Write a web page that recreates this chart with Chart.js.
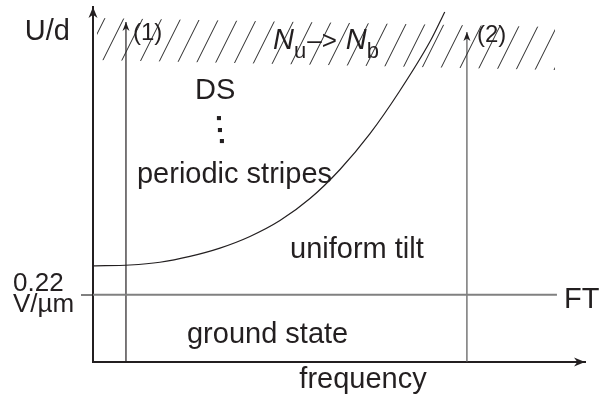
<!DOCTYPE html>
<html>
<head>
<meta charset="utf-8">
<script src="https://cdn.jsdelivr.net/npm/chart.js@4/dist/chart.umd.min.js"></script>
<style>
  body { margin: 0; background: #ffffff; }
  canvas { display: block; }
</style>
</head>
<body>
<canvas id="phaseChart" width="608" height="401"></canvas>
<script>
// phase boundary between periodic stripes and uniform tilt
const boundaryFreq = [0, 7.5, 13.6, 19.7, 25.8, 31.9, 38.0, 44.1, 50.2, 56.3, 62.4, 68.5, 71.5];
const boundaryField = [0.314, 0.317, 0.326, 0.345, 0.372, 0.410, 0.462, 0.534, 0.629, 0.746, 0.887, 1.047, 1.144];

// Freedericksz threshold
const thresholdField = 0.22;
const thresholdFreq = [0, 94.3];

// voltage sweeps (1) and (2)
const sweepFreq = [6.7, 76.0];
const sweepTop = [1.111, 1.078];

// hatched Nu -> Nb band
const bandFreq = [0.8, 93.9];
const bandTop = [1.124, 1.095];
const bandBottom = [0.987, 0.954];

// the three dots under DS
const dotFreq = [25.6, 25.8, 26.2];
const dotField = [0.797, 0.758, 0.722];

const yTicks = [thresholdField];
const yTickLabel = ["0.22", "V/\u00b5m"];

const FONT = '"Liberation Sans", Arial, sans-serif';

function pts(xs, ys) {
    return xs.map((x, i) => ({ x: x, y: ys[i] }));
}

// diagonal hatch pattern
function makeHatch() {
    const c = document.createElement("canvas");
    c.width = 19;
    c.height = 38;
    const g = c.getContext("2d");
    g.strokeStyle = "#2a2a2a";
    g.lineWidth = 1;
    for (let k = -1; k <= 1; k++) {
        g.beginPath();
        g.moveTo(k * 19, 38);
        g.lineTo(k * 19 + 19, 0);
        g.stroke();
    }
    return g.createPattern(c, "repeat");
}

function arrowUp(ctx, x, y, w, h) {
    ctx.beginPath();
    ctx.moveTo(x, y);
    ctx.lineTo(x - w, y + h);
    ctx.lineTo(x, y + h * 0.7);
    ctx.lineTo(x + w, y + h);
    ctx.closePath();
    ctx.fill();
}

function arrowRight(ctx, x, y, w, h) {
    ctx.beginPath();
    ctx.moveTo(x, y);
    ctx.lineTo(x - h, y - w);
    ctx.lineTo(x - h * 0.7, y);
    ctx.lineTo(x - h, y + w);
    ctx.closePath();
    ctx.fill();
}

// arrowheads + free text
const annotate = {
    id: "annotate",
    afterDraw(chart, args, opts) {
        const ctx = chart.ctx;
        const area = chart.chartArea;
        const xs = chart.scales.x;
        const ys = chart.scales.y;
        ctx.save();
        ctx.fillStyle = "#231f20";

        // axis arrows
        arrowUp(ctx, area.left, area.top, 4.5, 11);
        arrowRight(ctx, area.right, area.bottom, 4.5, 11);

        // sweep arrows
        chart.data.datasets.forEach((ds, i) => {
            if (!ds.arrowHead) return;
            const last = chart.getDatasetMeta(i).data;
            const p = last[last.length - 1];
            arrowUp(ctx, p.x, p.y, 3.5, 9);
        });

        ctx.textAlign = "left";
        ctx.textBaseline = "alphabetic";
        opts.labels.forEach(l => {
            ctx.font = l.size + "px " + FONT;
            ctx.fillText(l.text, xs.getPixelForValue(l.x), ys.getPixelForValue(l.y));
        });

        // Nu -> Nb
        let x = xs.getPixelForValue(opts.transition.x);
        const y = ys.getPixelForValue(opts.transition.y);
        opts.transition.parts.forEach(p => {
            ctx.font = (p.italic ? "italic " : "") + p.size + "px " + FONT;
            ctx.fillText(p.text, x, y + p.dy);
            x += ctx.measureText(p.text).width + (p.gap || 0);
        });

        // axis titles
        ctx.font = "29px " + FONT;
        ctx.textAlign = "right";
        ctx.fillText("U/d", area.left - 23, area.top + 33);
        ctx.textAlign = "center";
        ctx.fillText("frequency", area.left + 270, area.bottom + 26);
        ctx.restore();
    }
};

const hatch = makeHatch();

new Chart(document.getElementById("phaseChart"), {
    type: "line",
    data: {
        datasets: [
            {
                data: pts(bandFreq, bandBottom),
                borderWidth: 0,
                pointRadius: 0,
                fill: false
            },
            {
                data: pts(bandFreq, bandTop),
                borderWidth: 0,
                pointRadius: 0,
                backgroundColor: hatch,
                fill: "-1"
            },
            {
                data: pts(thresholdFreq, thresholdFreq.map(() => thresholdField)),
                borderColor: "#808080",
                borderWidth: 2,
                pointRadius: 0
            },
            {
                data: pts(boundaryFreq, boundaryField),
                borderColor: "#231f20",
                borderWidth: 1.2,
                pointRadius: 0,
                cubicInterpolationMode: "monotone",
                clip: false
            },
            {
                data: [{ x: sweepFreq[0], y: 0 }, { x: sweepFreq[0], y: sweepTop[0] }],
                borderColor: "#231f20",
                borderWidth: 1.2,
                pointRadius: 0,
                arrowHead: true
            },
            {
                data: [{ x: sweepFreq[1], y: 0 }, { x: sweepFreq[1], y: sweepTop[1] }],
                borderColor: "#555555",
                borderWidth: 1.2,
                pointRadius: 0,
                arrowHead: true
            },
            {
                data: pts(dotFreq, dotField),
                showLine: false,
                pointStyle: "rect",
                pointRadius: 2.9,
                backgroundColor: "#231f20",
                borderWidth: 0
            }
        ]
    },
    options: {
        responsive: false,
        animation: false,
        events: [],
        layout: {
            padding: { left: 13, top: 7, right: 23, bottom: 0 }
        },
        scales: {
            x: {
                type: "linear",
                min: 0,
                max: 100,
                ticks: { display: false },
                grid: { display: false },
                border: { color: "#231f20", width: 2 },
                afterFit(axis) {
                    axis.height = 39;
                }
            },
            y: {
                type: "linear",
                min: 0,
                max: 1.16,
                afterBuildTicks(axis) {
                    axis.ticks = yTicks.map(v => ({ value: v }));
                },
                ticks: {
                    crossAlign: "far",
                    color: "#231f20",
                    font: { family: FONT, size: 26, lineHeight: 0.8 },
                    callback: () => yTickLabel
                },
                grid: {
                    drawOnChartArea: false,
                    drawTicks: true,
                    tickLength: 12,
                    color: "#808080",
                    lineWidth: 2
                },
                border: { color: "#231f20", width: 2 },
                afterFit(axis) {
                    axis.width = 80;
                    axis.paddingTop = 0;
                    axis.paddingBottom = 0;
                }
            }
        },
        plugins: {
            legend: { display: false },
            tooltip: { enabled: false },
            annotate: {
                labels: [
                    { text: "(1)", x: 8.13, y: 1.052, size: 24 },
                    { text: "(2)", x: 78.05, y: 1.0456, size: 24 },
                    { text: "DS", x: 20.73, y: 0.8594, size: 29 },
                    { text: "periodic stripes", x: 8.94, y: 0.5849, size: 29 },
                    { text: "uniform tilt", x: 40.04, y: 0.3398, size: 29 },
                    { text: "ground state", x: 19.1, y: 0.0621, size: 29 },
                    { text: "FT", x: 95.73, y: 0.1765, size: 29 }
                ],
                transition: {
                    x: 36.59,
                    y: 1.0228,
                    parts: [
                        { text: "N", size: 29, italic: true, dy: 0 },
                        { text: "u", size: 22, dy: 9, gap: 1 },
                        { text: "\u2013>", size: 26, dy: 0, gap: 9 },
                        { text: "N", size: 29, italic: true, dy: 0 },
                        { text: "b", size: 22, dy: 9 }
                    ]
                }
            }
        }
    },
    plugins: [annotate]
});
</script>
</body>
</html>
